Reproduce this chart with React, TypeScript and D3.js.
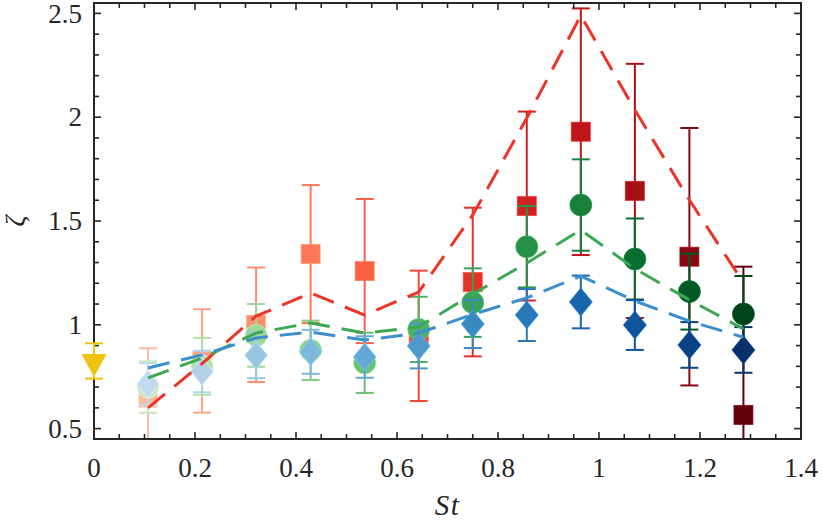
import * as React from "react";
import * as d3 from "d3";

// Stokes numbers of the measurement points
const stValues = [0.107, 0.214, 0.321, 0.429, 0.536, 0.643, 0.75, 0.857, 0.964, 1.071, 1.179, 1.286];

// squares (red)
const squareMean = [0.647, 0.826, 1.0, 1.341, 1.259, 0.947, 1.206, 1.572, 1.93, 1.645, 1.328, 0.566];
const squareErr = [0.24, 0.249, 0.276, 0.332, 0.347, 0.314, 0.358, 0.455, 0.594, 0.612, 0.62, 0.714];

// circles (green)
const circleMean = [0.7, 0.8, 0.949, 0.877, 0.817, 0.978, 1.107, 1.376, 1.577, 1.317, 1.16, 1.052];
const circleErr = [0.124, 0.137, 0.151, 0.143, 0.145, 0.157, 0.165, 0.196, 0.22, 0.195, 0.183, 0.183];

// diamonds (blue)
const diamondMean = [0.715, 0.775, 0.853, 0.87, 0.845, 0.898, 1.004, 1.047, 1.11, 0.999, 0.903, 0.879];
const diamondErr = [0.101, 0.1, 0.11, 0.106, 0.1, 0.108, 0.116, 0.125, 0.127, 0.12, 0.11, 0.11];

// dashed curves
const redCurve = [0.6, 0.813, 1.042, 1.153, 1.047, 1.158, 1.529, 1.996, 2.49, 2.035, 1.601, 1.203];
const greenCurve = [0.744, 0.84, 0.96, 1.009, 0.96, 0.99, 1.148, 1.298, 1.457, 1.27, 1.12, 0.98];
const blueCurve = [0.792, 0.855, 0.937, 0.965, 0.927, 0.96, 1.05, 1.13, 1.235, 1.115, 1.018, 0.94];

// single-phase reference point
const refSt = 0;
const refMean = 0.826;
const refErr = 0.085;

const xTicks = [0, 0.2, 0.4, 0.6, 0.8, 1, 1.2, 1.4];
const xTickLabels = ["0", "0.2", "0.4", "0.6", "0.8", "1", "1.2", "1.4"];
const yTicks = [0.5, 1, 1.5, 2, 2.5];
const yTickLabels = ["0.5", "1", "1.5", "2", "2.5"];

const FONT = "'Liberation Serif', serif";
const AXIS = "#262626";

export default function App() {
  const svgRef = React.useRef<SVGSVGElement>(null);

  React.useEffect(() => {
    const svgEl = svgRef.current;
    if (!svgEl) return;
    const svg = d3.select(svgEl);
    svg.selectAll("*").remove();

    const left = 94, right = 801, top = 3, bottom = 439;
    const x = d3.scaleLinear().domain([0, 1.4]).range([left, right]);
    const y = d3.scaleLinear().domain([0.45, 2.55]).range([bottom, top]);

    // clip only vertically so caps at St = 0 stay whole
    svg.append("defs").append("clipPath").attr("id", "plotclip")
      .append("rect").attr("x", 0).attr("y", top)
      .attr("width", 822).attr("height", bottom - top);

    const plot = svg.append("g");
    const tRamp = (i: number) => 0.25 + 0.75 * i / (stValues.length - 1);

    const drawErr = (g: any, xs: number[], m: number[], e: number[], color: (i: number) => string) => {
      const eg = g.append("g").attr("clip-path", "url(#plotclip)");
      xs.forEach((sv, i) => {
        const cx = x(sv);
        const c = color(i);
        eg.append("line").attr("x1", cx).attr("x2", cx)
          .attr("y1", y(m[i] - e[i])).attr("y2", y(m[i] + e[i]))
          .attr("stroke", c).attr("stroke-width", 2);
        [m[i] - e[i], m[i] + e[i]].forEach((v) => {
          eg.append("line").attr("x1", cx - 9).attr("x2", cx + 9)
            .attr("y1", y(v)).attr("y2", y(v))
            .attr("stroke", c).attr("stroke-width", 2);
        });
      });
    };

    const edge = (c: string) => d3.color(c)!.brighter(0.6).formatHex();

    // squares
    const sq = plot.append("g");
    const sqColor = (i: number) => d3.interpolateReds(tRamp(i));
    drawErr(sq, stValues, squareMean, squareErr, sqColor);
    stValues.forEach((sv, i) => {
      sq.append("rect").attr("x", x(sv) - 9.5).attr("y", y(squareMean[i]) - 9.5)
        .attr("width", 19).attr("height", 19)
        .attr("fill", sqColor(i)).attr("stroke", edge(sqColor(i)))
        .attr("stroke-width", 1).attr("stroke-opacity", 0.7);
    });

    // circles
    const ci = plot.append("g");
    const ciColor = (i: number) => d3.interpolateGreens(tRamp(i));
    drawErr(ci, stValues, circleMean, circleErr, ciColor);
    stValues.forEach((sv, i) => {
      ci.append("circle").attr("cx", x(sv)).attr("cy", y(circleMean[i])).attr("r", 11)
        .attr("fill", ciColor(i)).attr("stroke", edge(ciColor(i)))
        .attr("stroke-width", 1).attr("stroke-opacity", 0.7);
    });

    // diamonds
    const di = plot.append("g");
    const diColor = (i: number) => d3.interpolateBlues(tRamp(i));
    drawErr(di, stValues, diamondMean, diamondErr, diColor);
    stValues.forEach((sv, i) => {
      const cx = x(sv), cy = y(diamondMean[i]);
      di.append("path")
        .attr("d", `M${cx},${cy - 14}L${cx + 11.5},${cy}L${cx},${cy + 14}L${cx - 11.5},${cy}Z`)
        .attr("fill", diColor(i)).attr("stroke", edge(diColor(i)))
        .attr("stroke-width", 1).attr("stroke-opacity", 0.7);
    });

    // dashed curves
    const line = d3.line<number>().x((_d, i) => x(stValues[i])).y((d) => y(d));
    [
      { v: redCurve, c: "#ec3528" },
      { v: greenCurve, c: "#3da853" },
      { v: blueCurve, c: "#3b8fcc" },
    ].forEach((s) => {
      plot.append("path").attr("d", line(s.v)).attr("fill", "none")
        .attr("stroke", s.c).attr("stroke-width", 3)
        .attr("stroke-dasharray", "22,12");
    });

    // axes box with inward ticks
    const ax = svg.append("g").attr("stroke", AXIS);
    const xMinor = d3.range(0, 1.4001, 0.05);
    const yMinor = d3.range(0.5, 2.5001, 0.1);
    xMinor.forEach((v) => {
      const major = xTicks.some((t) => Math.abs(t - v) < 1e-6);
      const len = major ? 7 : 5;
      ax.append("line").attr("x1", x(v)).attr("x2", x(v)).attr("y1", bottom).attr("y2", bottom - len).attr("stroke-width", 1.6);
      ax.append("line").attr("x1", x(v)).attr("x2", x(v)).attr("y1", top).attr("y2", top + len).attr("stroke-width", 1.6);
    });
    yMinor.forEach((v) => {
      const major = yTicks.some((t) => Math.abs(t - v) < 1e-6);
      const len = major ? 7 : 5;
      ax.append("line").attr("x1", left).attr("x2", left + len).attr("y1", y(v)).attr("y2", y(v)).attr("stroke-width", 1.6);
      ax.append("line").attr("x1", right).attr("x2", right - len).attr("y1", y(v)).attr("y2", y(v)).attr("stroke-width", 1.6);
    });
    ax.append("rect").attr("x", left).attr("y", top)
      .attr("width", right - left).attr("height", bottom - top)
      .attr("fill", "none").attr("stroke-width", 2);

    // reference triangle sits over the left axis line
    const tri = svg.append("g");
    const yellow = "#f0c30f";
    drawErr(tri, [refSt], [refMean], [refErr], () => yellow);
    {
      const cx = x(refSt), cy = y(refMean);
      tri.append("path")
        .attr("d", `M${cx - 12.5},${cy - 7}L${cx + 12.5},${cy - 7}L${cx},${cy + 16}Z`)
        .attr("fill", yellow);
    }

    const labels = svg.append("g").style("font-family", FONT).attr("fill", AXIS).style("font-size", "27px");
    xTicks.forEach((t, i) => {
      labels.append("text").attr("x", x(t)).attr("y", 477)
        .attr("text-anchor", "middle").text(xTickLabels[i]);
    });
    yTicks.forEach((t, i) => {
      labels.append("text").attr("x", 82).attr("y", y(t)).attr("dy", "0.34em")
        .attr("text-anchor", "end").text(yTickLabels[i]);
    });

    svg.append("text").attr("x", (left + right) / 2).attr("y", 515)
      .attr("text-anchor", "middle").style("font-family", FONT)
      .style("font-style", "italic").style("font-size", "29px").attr("fill", AXIS)
      .attr("letter-spacing", 1.5).text("St");

    svg.append("text").attr("transform", `translate(24,${(top + bottom) / 2}) rotate(-90)`)
      .attr("text-anchor", "middle").style("font-family", FONT)
      .style("font-style", "italic").style("font-size", "27px").attr("fill", AXIS)
      .text("ζ");
  }, []);

  return (
    <svg
      ref={svgRef}
      width={822}
      height={522}
      style={{ position: "absolute", left: 0, top: 0, background: "#fff" }}
    />
  );
}
